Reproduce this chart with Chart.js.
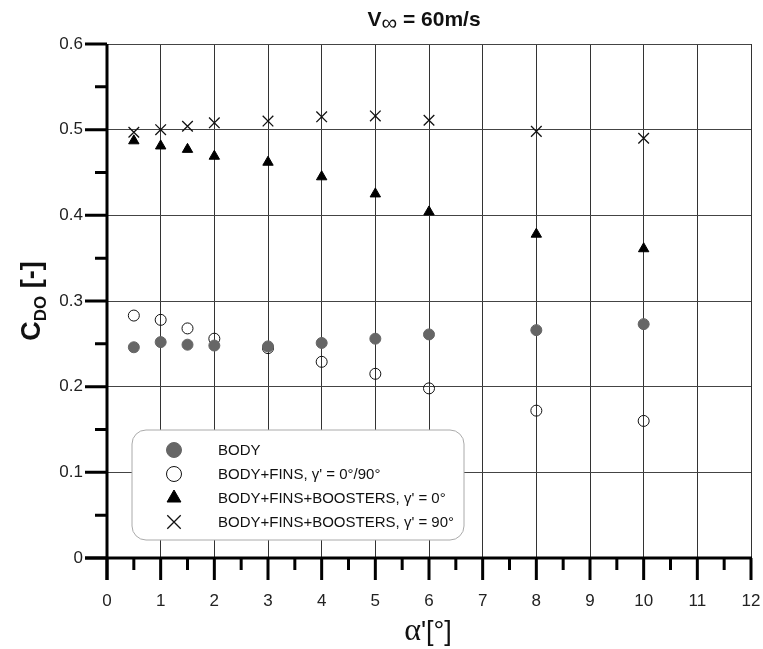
<!DOCTYPE html>
<html>
<head>
<meta charset="utf-8">
<script src="https://cdn.jsdelivr.net/npm/chart.js@4.4.1/dist/chart.umd.min.js"></script>
<style>
  html, body { margin: 0; padding: 0; background: #fff; }
  #wrap { width: 763px; height: 649px; }
</style>
</head>
<body>
<div id="wrap"><canvas id="c" width="763" height="649"></canvas></div>
<script>
// ---- data ----
const alpha = [0.5, 1, 1.5, 2, 3, 4, 5, 6, 8, 10];
const body = [0.246, 0.252, 0.249, 0.248, 0.247, 0.251, 0.256, 0.261, 0.266, 0.273];
const bodyFins = [0.283, 0.278, 0.268, 0.256, 0.245, 0.229, 0.215, 0.198, 0.172, 0.160];
const boostersG0 = [0.487, 0.481, 0.477, 0.469, 0.462, 0.445, 0.425, 0.404, 0.378, 0.361];
const boostersG90 = [0.497, 0.500, 0.504, 0.508, 0.510, 0.515, 0.516, 0.511, 0.498, 0.490];
const seriesLabels = ['BODY', 'BODY+FINS, \u03b3\' = 0\u00b0/90\u00b0', 'BODY+FINS+BOOSTERS, \u03b3\' = 0\u00b0', 'BODY+FINS+BOOSTERS, \u03b3\' = 90\u00b0'];
const xTicks = [0,1,2,3,4,5,6,7,8,9,10,11,12];
const yTickLabels = ['0', '0.1', '0.2', '0.3', '0.4', '0.5', '0.6'];

const pts = ys => alpha.map((a, i) => ({ x: a, y: ys[i] }));

const FONT = 'Arial, "Liberation Sans", sans-serif';
const SERIF = '"Liberation Serif", "Times New Roman", serif';

const zeroPad = s => { s.paddingLeft = 0; s.paddingRight = 0; s.paddingTop = 0; s.paddingBottom = 0; };

const decor = {
  id: 'decor',
  afterDraw(chart) {
    const ctx = chart.ctx;
    const xs = chart.scales.x, ys = chart.scales.y;
    const x0 = xs.getPixelForValue(0), y0 = ys.getPixelForValue(0);
    ctx.save();
    ctx.strokeStyle = '#000';
    ctx.lineCap = 'butt';
    // axis lines
    ctx.lineWidth = 3;
    ctx.beginPath();
    ctx.moveTo(x0, ys.getPixelForValue(0.6));
    ctx.lineTo(x0, y0 + 22);
    ctx.moveTo(x0 - 22, y0);
    ctx.lineTo(xs.getPixelForValue(12) + 1, y0);
    ctx.stroke();
    // y ticks
    ctx.beginPath();
    for (let v = 0; v <= 12; v++) {
      const py = ys.getPixelForValue(v * 0.05);
      const len = (v % 2 === 0) ? 22 : 12;
      ctx.moveTo(x0 - len, py);
      ctx.lineTo(x0, py);
    }
    // x ticks
    for (let v = 0; v <= 24; v++) {
      const px = xs.getPixelForValue(v * 0.5);
      const len = (v % 2 === 0) ? 22 : 12;
      ctx.moveTo(px, y0);
      ctx.lineTo(px, y0 + len);
    }
    ctx.stroke();

    // title
    ctx.fillStyle = '#111';
    ctx.textBaseline = 'alphabetic';
    ctx.textAlign = 'left';
    const tf = 'bold 21px ' + FONT, sf = '22px ' + FONT;
    ctx.font = tf; const wV = ctx.measureText('V').width;
    ctx.font = sf; const wI = ctx.measureText('\u221e').width;
    ctx.font = tf; const wR = ctx.measureText(' = 60m/s').width;
    let tx = 424 - (wV + wI + wR) / 2;
    const ty = 26;
    ctx.font = tf; ctx.fillText('V', tx, ty); tx += wV;
    ctx.font = sf; ctx.fillText('\u221e', tx, ty + 4); tx += wI;
    ctx.font = tf; ctx.fillText(' = 60m/s', tx, ty);

    // y title
    ctx.save();
    ctx.translate(40, 301);
    ctx.rotate(-Math.PI / 2);
    const yf = 'bold 27px ' + FONT, ysf = 'bold 17px ' + FONT;
    ctx.font = yf; const wC = ctx.measureText('C').width;
    ctx.font = ysf; const wD = ctx.measureText('DO').width;
    ctx.font = yf; const wB = ctx.measureText(' [-]').width;
    let yx = -(wC + wD + wB) / 2;
    ctx.font = yf; ctx.fillText('C', yx, 0); yx += wC;
    ctx.font = ysf; ctx.fillText('DO', yx, 6); yx += wD;
    ctx.font = yf; ctx.fillText(' [-]', yx, 0);
    ctx.restore();

    // x title
    const af = '32px ' + SERIF, rf = '27px ' + FONT;
    ctx.font = af; const wA = ctx.measureText('\u03b1').width;
    ctx.font = rf; const wRest = ctx.measureText('\'[\u00b0]').width;
    let ax = 428 - (wA + wRest) / 2;
    ctx.font = af; ctx.fillText('\u03b1', ax, 640); ax += wA;
    ctx.font = rf; ctx.fillText('\'[\u00b0]', ax, 640);

    // legend
    const lx = 132, ly = 430, lw = 332, lh = 110, r = 14;
    ctx.beginPath();
    ctx.moveTo(lx + r, ly);
    ctx.arcTo(lx + lw, ly, lx + lw, ly + lh, r);
    ctx.arcTo(lx + lw, ly + lh, lx, ly + lh, r);
    ctx.arcTo(lx, ly + lh, lx, ly, r);
    ctx.arcTo(lx, ly, lx + lw, ly, r);
    ctx.closePath();
    ctx.fillStyle = '#fff';
    ctx.fill();
    ctx.lineWidth = 1;
    ctx.strokeStyle = '#aaa';
    ctx.stroke();
    const rowsY = [450, 474, 498, 522];
    const mx = 174;
    chart.data.datasets.forEach((ds, i) => {
      const cy = rowsY[i];
      ctx.save();
      ctx.lineWidth = ds.pointBorderWidth;
      ctx.strokeStyle = ds.pointBorderColor;
      ctx.fillStyle = ds.pointBackgroundColor;
      Chart.helpers.drawPoint(ctx, { pointStyle: ds.pointStyle, rotation: 0, borderWidth: ds.pointBorderWidth, radius: ds.legendRadius }, mx, cy);
      ctx.restore();
      ctx.fillStyle = '#111';
      ctx.font = '15px ' + FONT;
      ctx.textAlign = 'left';
      ctx.textBaseline = 'middle';
      ctx.fillText(ds.label, 218, cy + 1);
    });
    ctx.restore();
  }
};

new Chart(document.getElementById('c'), {
  type: 'scatter',
  data: {
    datasets: [
      { label: seriesLabels[0], data: pts(body), pointStyle: 'circle', pointRadius: 5.5, legendRadius: 7.5,
        pointBackgroundColor: '#666', pointBorderColor: '#666', pointBorderWidth: 1 },
      { label: seriesLabels[1], data: pts(bodyFins), pointStyle: 'circle', pointRadius: 5.5, legendRadius: 7.5,
        pointBackgroundColor: 'rgba(255,255,255,0)', pointBorderColor: '#111', pointBorderWidth: 1 },
      { label: seriesLabels[2], data: pts(boostersG0), pointStyle: 'triangle', pointRadius: 6, legendRadius: 8,
        pointBackgroundColor: '#000', pointBorderColor: '#000', pointBorderWidth: 1 },
      { label: seriesLabels[3], data: pts(boostersG90), pointStyle: 'crossRot', pointRadius: 7.5, legendRadius: 9.5,
        pointBackgroundColor: '#000', pointBorderColor: '#111', pointBorderWidth: 1.3 }
    ]
  },
  options: {
    responsive: false,
    animation: false,
    devicePixelRatio: 1,
    layout: { padding: { top: 44, right: 12, left: 0, bottom: 0 } },
    plugins: { legend: { display: false }, tooltip: { enabled: false }, title: { display: false } },
    scales: {
      x: {
        type: 'linear', min: 0, max: 12,
        afterFit: s => { s.height = 91; zeroPad(s); },
        afterBuildTicks: s => { s.ticks = xTicks.map(v => ({ value: v })); },
        grid: { color: '#333', lineWidth: 1, drawTicks: false },
        border: { display: false },
        ticks: { padding: 33, color: '#222', font: { family: FONT, size: 17 }, maxRotation: 0, autoSkip: false, callback: v => String(v) }
      },
      y: {
        type: 'linear', min: 0, max: 0.6,
        afterFit: s => { s.width = 107; zeroPad(s); },
        afterBuildTicks: s => { s.ticks = yTickLabels.map(t => ({ value: parseFloat(t) })); },
        grid: { color: '#444', lineWidth: 1, drawTicks: false },
        border: { display: false },
        ticks: { padding: 24, color: '#222', font: { family: FONT, size: 17 },
          callback: (v, i) => yTickLabels[i] }
      }
    }
  },
  plugins: [decor]
});
</script>
</body>
</html>
